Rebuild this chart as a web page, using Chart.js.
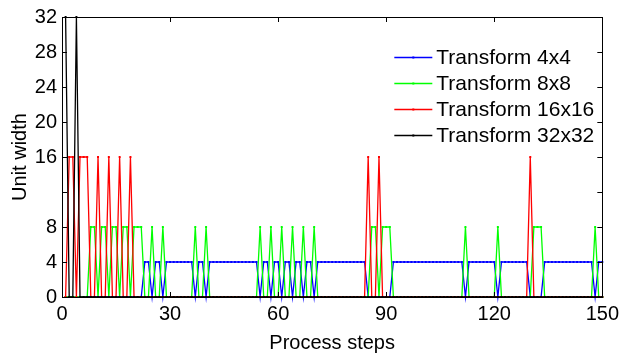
<!DOCTYPE html>
<html><head><meta charset="utf-8">
<script src="https://cdn.jsdelivr.net/npm/chart.js@4/dist/chart.umd.min.js"></script>
<style>html,body{margin:0;padding:0;background:#fff;}canvas{display:block;}</style>
</head><body>
<canvas id="c" width="624" height="358"></canvas>
<script>
const seriesNames = ['Transform 4x4', 'Transform 8x8', 'Transform 16x16', 'Transform 32x32'];
const seriesWidths = [4, 8, 16, 32];
const seriesColors = ['#0000ff', '#00ff00', '#ff0000', '#000000'];
const xTicks = [0, 30, 60, 90, 120, 150];
const yTicks = [0, 4, 8, 12, 16, 20, 24, 28, 32];
const yTickLabels = ['0', '4', '8', '', '16', '20', '24', '28', '32'];
// unit width chosen at process steps 1..150
const chosenWidth = [
  32,16,16,32,16,16,16,8,8,16,
  8,8,16,8,8,16,8,8,16,8,
  8,8,4,4,8,4,4,8,4,4,
  4,4,4,4,4,4,8,4,4,8,
  4,4,4,4,4,4,4,4,4,4,
  4,4,4,4,8,4,4,8,4,4,
  8,4,4,8,4,4,8,4,4,8,
  4,4,4,4,4,4,4,4,4,4,
  4,4,4,4,16,8,8,16,8,8,
  8,4,4,4,4,4,4,4,4,4,
  4,4,4,4,4,4,4,4,4,4,
  4,8,4,4,4,4,4,4,4,4,
  8,4,4,4,4,4,4,4,4,16,
  8,8,8,4,4,4,4,4,4,4,
  4,4,4,4,4,4,4,8,4,4
];

const FONT = "'Liberation Sans', Arial, sans-serif";

const datasets = seriesNames.map((name, k) => ({
  label: name,
  data: chosenWidth.map((w, i) => ({x: i + 1, y: w === seriesWidths[k] ? w : 0})),
  borderColor: seriesColors[k],
  backgroundColor: seriesColors[k],
  borderWidth: 1.3,
  pointRadius: 1.4,
  pointStyle: 'rect',
  pointBorderWidth: 0,
  pointHoverRadius: 0,
  tension: 0,
  clip: false,
  order: 3 - k
}));

const decor = {
  id: 'decor',
  afterDraw(chart) {
    const {ctx, chartArea: a, scales: {x, y}} = chart;
    ctx.save();
    ctx.strokeStyle = '#000';
    ctx.lineWidth = 1;
    ctx.strokeRect(Math.round(a.left) + 0.5, Math.round(a.top) + 0.5, Math.round(a.right - a.left), Math.round(a.bottom - a.top));
    ctx.beginPath();
    xTicks.forEach(v => {
      const p = Math.round(x.getPixelForValue(v)) + 0.5;
      ctx.moveTo(p, a.bottom); ctx.lineTo(p, a.bottom - 5);
      ctx.moveTo(p, a.top); ctx.lineTo(p, a.top + 5);
    });
    yTicks.forEach(v => {
      const p = Math.round(y.getPixelForValue(v)) + 0.5;
      ctx.moveTo(a.left, p); ctx.lineTo(a.left + 5, p);
      ctx.moveTo(a.right, p); ctx.lineTo(a.right - 5, p);
    });
    ctx.stroke();
    // legend
    const lx0 = a.right - 208, lx1 = a.right - 170, tx = a.right - 166;
    const rows = [a.top + 40, a.top + 66, a.top + 92, a.top + 118];
    ctx.font = '21px ' + FONT;
    ctx.textBaseline = 'middle';
    ctx.textAlign = 'left';
    seriesNames.forEach((name, k) => {
      const yy = rows[k] + 0.5;
      ctx.strokeStyle = seriesColors[k];
      ctx.lineWidth = 1.3;
      ctx.beginPath(); ctx.moveTo(lx0, yy); ctx.lineTo(lx1, yy); ctx.stroke();
      ctx.fillStyle = seriesColors[k];
      ctx.fillRect((lx0 + lx1) / 2 - 1, yy - 1, 2, 2);
      ctx.fillStyle = '#000';
      ctx.fillText(name, tx, rows[k] + 1);
    });
    ctx.restore();
  }
};

new Chart(document.getElementById('c'), {
  type: 'line',
  data: {datasets},
  options: {
    responsive: false,
    devicePixelRatio: 1,
    animation: false,
    events: [],
    layout: {padding: {left: 0, right: 19, top: 10, bottom: 0}},
    plugins: {legend: {display: false}, tooltip: {enabled: false}},
    scales: {
      x: {
        type: 'linear', min: 0, max: 150,
        afterBuildTicks: s => { s.ticks = xTicks.map(v => ({value: v})); },
        afterFit: s => { s.height = 61; },
        grid: {display: false, drawTicks: false},
        border: {display: false},
        ticks: {color: '#000', font: {family: FONT, size: 20}, padding: 5, maxRotation: 0, autoSkip: false},
        title: {display: true, text: 'Process steps', color: '#000', font: {family: FONT, size: 20}, padding: {top: 0, bottom: 3}}
      },
      y: {
        type: 'linear', min: 0, max: 32,
        afterBuildTicks: s => { s.ticks = yTicks.map(v => ({value: v})); },
        afterFit: s => { s.width = 62; },
        grid: {display: false, drawTicks: false},
        border: {display: false},
        ticks: {color: '#000', font: {family: FONT, size: 20}, padding: 5, autoSkip: false,
          callback: v => yTickLabels[yTicks.indexOf(v)]},
        title: {display: true, text: 'Unit width', color: '#000', font: {family: FONT, size: 20}, padding: {top: 8, bottom: 0}}
      }
    }
  },
  plugins: [decor]
});
</script>
</body></html>
